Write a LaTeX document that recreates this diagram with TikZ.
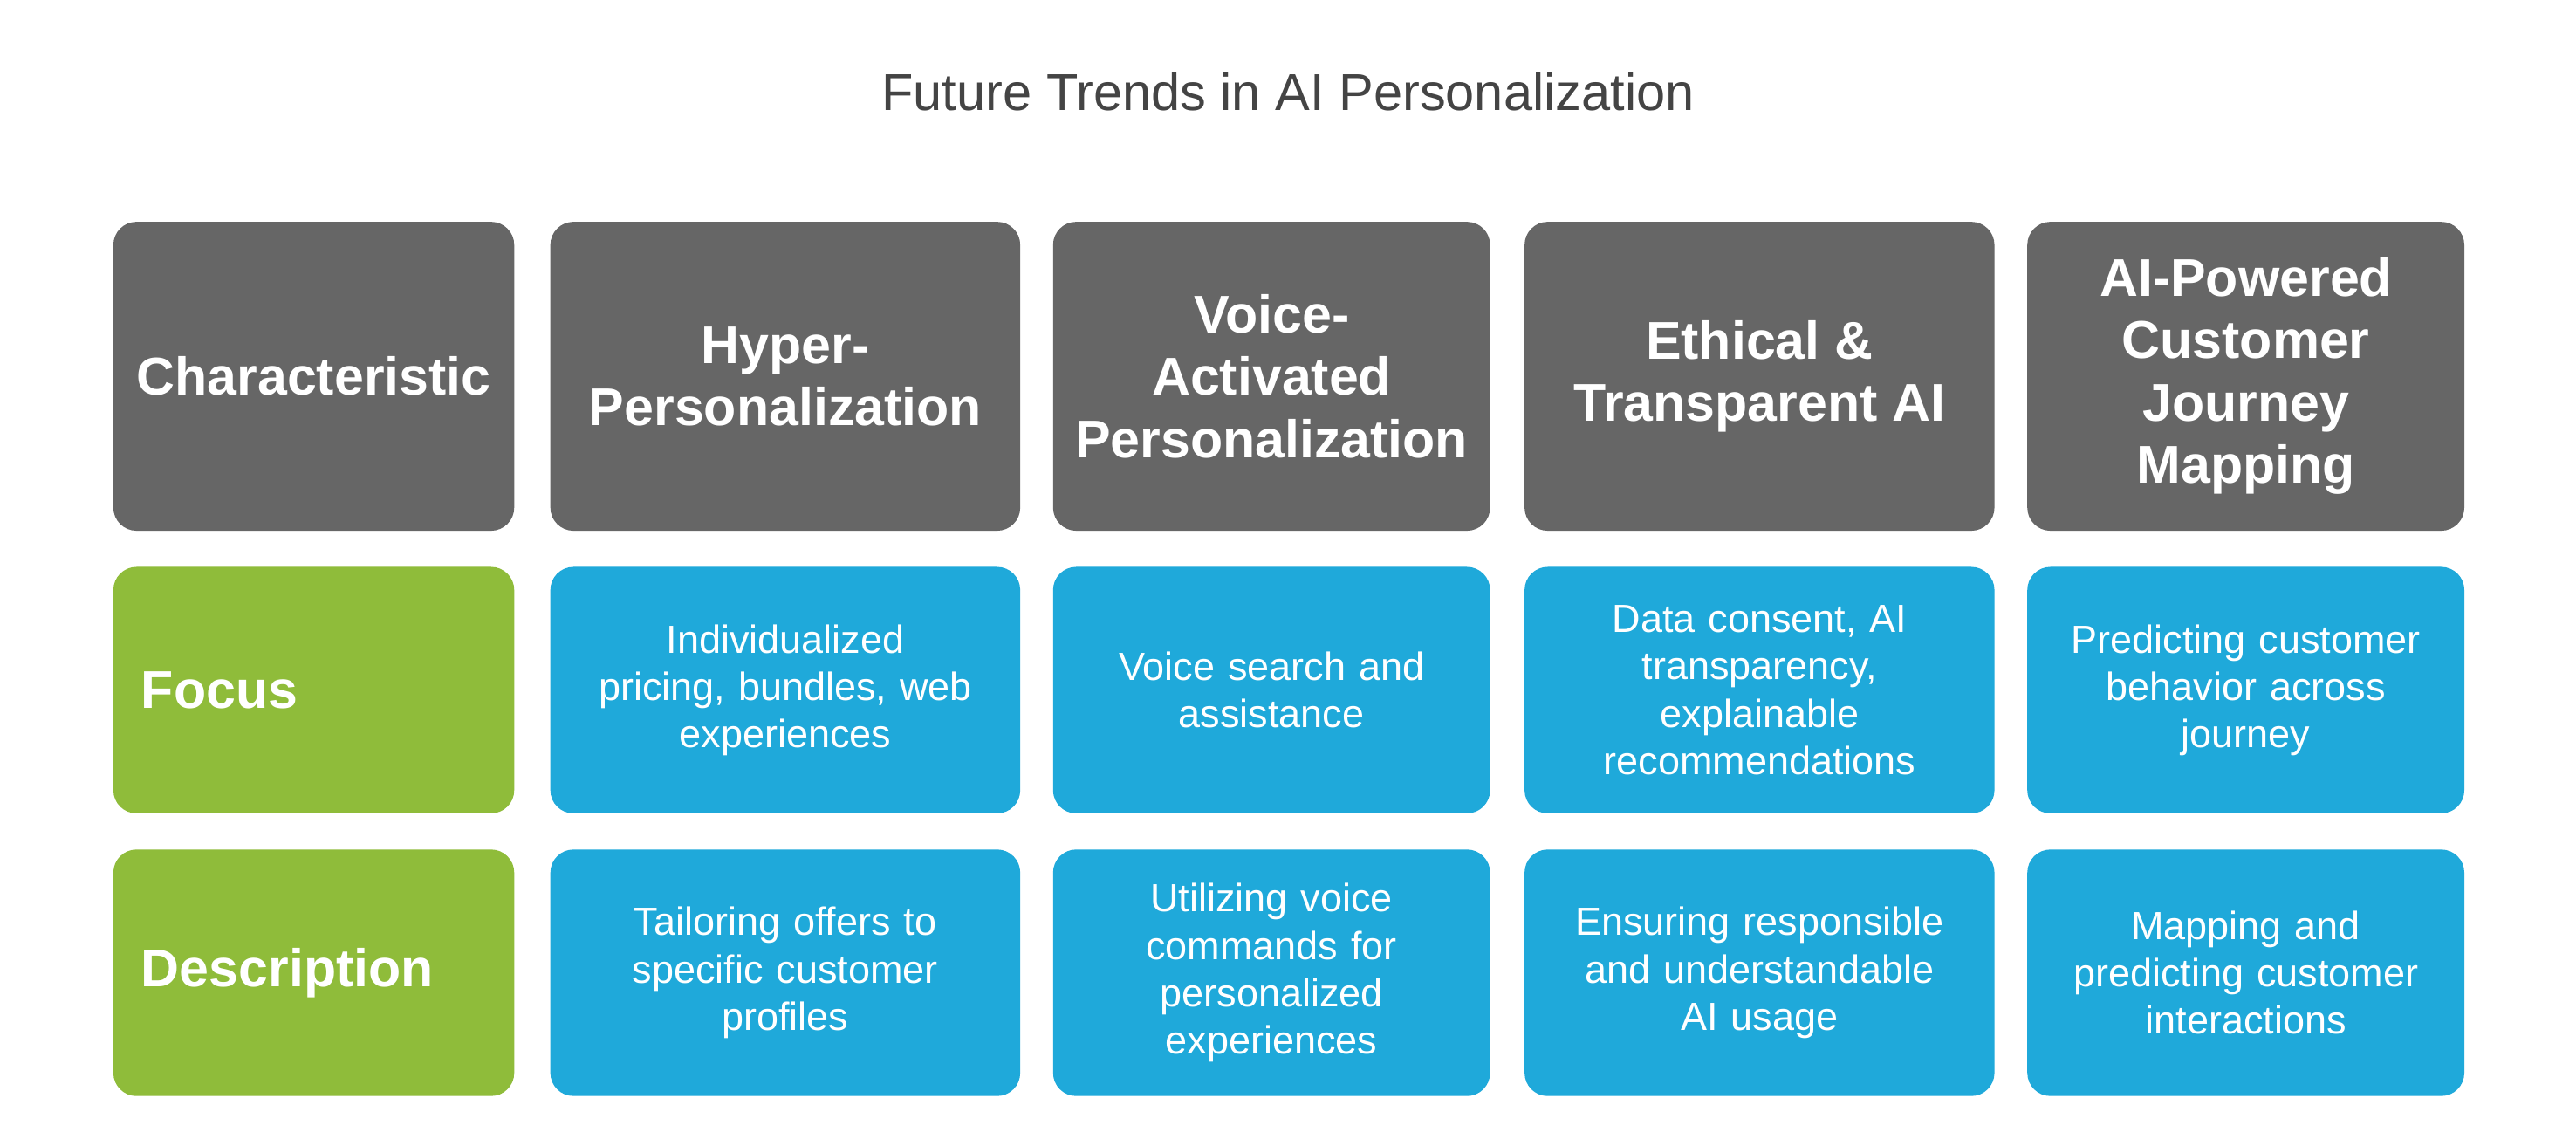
\documentclass[tikz,border=0pt]{standalone}
\usepackage{fontspec}
\setmainfont{Liberation Sans}
\definecolor{HeadGray}{HTML}{666666}
\definecolor{CellBlue}{HTML}{1FA9DA}
\definecolor{RowGreen}{HTML}{8FBC3A}
\definecolor{TitleInk}{HTML}{444444}
\tikzset{
  cell/.style={rectangle, rounded corners=4pt, draw=none, text=white, align=center, inner sep=2pt},
  hdr/.style={cell, fill=HeadGray, minimum height=1.88cm, font=\bfseries\fontsize{9.2}{10.8}\selectfont},
  rowlab/.style={cell, fill=RowGreen, minimum height=1.50cm, font=\bfseries\fontsize{9.2}{10.8}\selectfont, text width=2.1cm, align=left},
  body/.style={cell, fill=CellBlue, minimum height=1.50cm, font=\fontsize{6.8}{8.2}\selectfont}
}
\begin{document}
\begin{tikzpicture}
\useasboundingbox (0,0) rectangle (15.68,-6.97);
\node[text=TitleInk, font=\fontsize{9}{11}\selectfont] (title) at (7.84,-0.56) {Future Trends in AI Personalization};

%% header row
\node[hdr, minimum width=2.44cm] (hChar) at (1.91,-2.29) {Characteristic};
\node[hdr, minimum width=2.86cm] (hHyper) at (4.78,-2.29) {Hyper-\\Personalization};
\node[hdr, minimum width=2.66cm] (hVoice) at (7.74,-2.29) {Voice-\\Activated\\Personalization};
\node[hdr, minimum width=2.86cm] (hEthic) at (10.71,-2.29) {Ethical \&\\Transparent AI};
\node[hdr, minimum width=2.66cm] (hJourney) at (13.67,-2.29) {AI-Powered\\Customer\\Journey\\Mapping};

%% focus row
\node[rowlab, minimum width=2.44cm, text width=2.1cm] (rFocus) at (1.91,-4.20) {Focus};
\node[body, minimum width=2.86cm, text width=2.6cm] (fHyper) at (4.78,-4.20) {Individualized\\pricing, bundles, web\\experiences};
\node[body, minimum width=2.66cm, text width=2.4cm] (fVoice) at (7.74,-4.20) {Voice search and\\assistance};
\node[body, minimum width=2.86cm, text width=2.6cm] (fEthic) at (10.71,-4.20) {Data consent, AI\\transparency,\\explainable\\recommendations};
\node[body, minimum width=2.66cm, text width=2.4cm] (fJourney) at (13.67,-4.20) {Predicting customer\\behavior across\\journey};

%% description row
\node[rowlab, minimum width=2.44cm, text width=2.1cm] (rDesc) at (1.91,-5.92) {Description};
\node[body, minimum width=2.86cm, text width=2.6cm] (dHyper) at (4.78,-5.92) {Tailoring offers to\\specific customer\\profiles};
\node[body, minimum width=2.66cm, text width=2.4cm] (dVoice) at (7.74,-5.92) {Utilizing voice\\commands for\\personalized\\experiences};
\node[body, minimum width=2.86cm, text width=2.6cm] (dEthic) at (10.71,-5.92) {Ensuring responsible\\and understandable\\AI usage};
\node[body, minimum width=2.66cm, text width=2.4cm] (dJourney) at (13.67,-5.92) {Mapping and\\predicting customer\\interactions};
\end{tikzpicture}
\end{document}
